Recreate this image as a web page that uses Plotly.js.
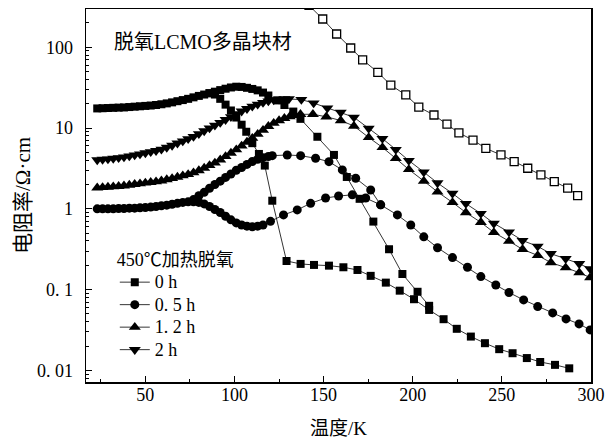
<!DOCTYPE html>
<html><head><meta charset="utf-8">
<script src="https://cdn.plot.ly/plotly-3.0.1.min.js"></script>
<style>html,body{margin:0;padding:0;background:#fff}#chart{width:607px;height:441px}</style>
</head><body><div id="chart"></div>
<script>
// ---- data ----
// unlabeled high-resistance sample (open squares)
const openT   = [141.8,149.5,157.3,165.2,171.9,180.4,187.7,196.1,203.4,211.9,219.2,225.9,233.8,241.0,249.5,256.9,264.5,271.9,279.4,286.9,292.5];
const openR   = [330,224,146,98,70,49,34,25.7,18.2,14.5,11.2,8.7,7.1,5.6,4.65,3.84,3.18,2.63,2.17,1.80,1.46];

// 0 h : main path (rise, peak, fall on the upper branch)
const h0T  = [23,26,29,32,35,38,41,44,47,50,53,56,59,62,65,68,71,74,77,80,83,86,89,92,95,98,101,104,107,110,113,116,119,124,128,133,137,146.5,155.8,163,170.2,177.9,186.7,194.2,202.7,209.2];
const h0R  = [17.5,17.6,17.7,17.8,17.9,18.0,18.2,18.4,18.6,18.8,19.0,19.3,19.7,20.2,20.8,21.5,22.2,23.0,24.0,25.0,26.0,27.0,28.2,29.5,30.7,31.8,32.5,32.3,31.5,30.5,29.3,27.5,25.3,22.0,19.3,16.0,13.0,7.8,4.65,2.48,1.33,0.695,0.316,0.156,0.094,0.063];
// 0 h : lower branch (sudden drop) and low tail
const h0bT = [86,89,92,95,98,101,104,106.6,110,113.7,117,121.2,129.2,137.1,144.6,153,161.1,169,176.4,184.9,192.7,200.7,209.2,217.3,224.7,232.6,240.5,248.5,256,264,271.5,279.8,287.8];
const h0bR = [27,26,23,19.5,16.5,13.5,11,9.0,6.5,4.78,3.43,1.26,0.226,0.208,0.202,0.198,0.189,0.175,0.148,0.122,0.097,0.076,0.056,0.043,0.0327,0.0262,0.0217,0.0183,0.0163,0.0142,0.0127,0.0117,0.0106];

// 0.5 h : lower branch (dip) and common high-T part
const h05T  = [23,26,29,32,35,38,41,44,47,50,53,56,59,62,65,68,71,74,77,80,83,86,89,92,95,98,101,104,107,110,113,116,120.2,127.5,135.2,142.7,151.1,158.4,166.1,173.6,182,191.4,198.9,206.2,213.9,222.3,230.7,238.2,246.6,254,262.2,270.1,278.5,286,293.3,299.5];
const h05R  = [1.0,1.0,1.0,1.0,1.01,1.01,1.02,1.02,1.03,1.04,1.05,1.07,1.09,1.11,1.14,1.17,1.2,1.22,1.22,1.2,1.15,1.07,0.98,0.9,0.81,0.73,0.67,0.63,0.61,0.6,0.61,0.63,0.70,0.84,0.97,1.17,1.36,1.44,1.49,1.36,1.12,0.84,0.63,0.45,0.33,0.249,0.189,0.145,0.114,0.092,0.0745,0.0616,0.0515,0.0434,0.0376,0.0317];
// 0.5 h : upper branch
const h05bT = [77,80,83,86,89,92,95,98,101,104,107,110,113,116,119,121.2,129.6,137.1,145.5,153,160.5,168,176.4,182];
const h05bR = [1.3,1.45,1.6,1.8,2.0,2.2,2.45,2.7,3.0,3.25,3.55,3.85,4.1,4.3,4.45,4.55,4.64,4.55,4.23,3.84,3.03,2.39,1.71,1.12];

// 1.2 h
const h12T = [23,26,29,32,35,38,41,44,47,50,53,56,59,62,65,68,71,74,77,80,83,86,89,92,95,98,101,104,107,110,113,116,119,122,125,128,131,134,137,144,151.5,159.6,167,175.3,183,190.5,197.8,206.2,213.9,222.3,229.8,238.2,245.5,254,261.6,270.1,277.5,285.8,293.4,299.5];
const h12R = [1.82,1.84,1.86,1.88,1.9,1.93,1.97,2.01,2.05,2.09,2.13,2.17,2.22,2.3,2.38,2.47,2.57,2.67,2.8,2.98,3.2,3.45,3.7,4.05,4.45,4.9,5.4,6.0,6.7,7.5,8.4,9.4,10.5,11.5,12.4,13.2,13.9,14.4,14.8,14.8,13.8,12.4,10.6,7.65,5.76,4.2,3.07,2.21,1.62,1.2,0.90,0.68,0.511,0.398,0.315,0.265,0.216,0.187,0.162,0.141];

// 2 h
const h2T = [23,26,29,32,35,38,41,44,47,50,53,56,59,62,65,68,71,74,77,80,83,86,89,92,95,98,101,104,107,110,113,116,119,122,125,128,130.5,137.5,144.4,152.1,159.6,167,175.3,183,190.5,197.8,206.2,213.9,222.3,229.8,238.2,245.5,254,261.6,270.1,277.5,285.8,293.4,299.5];
const h2R = [4.03,4.08,4.13,4.2,4.28,4.38,4.5,4.63,4.77,4.92,5.08,5.25,5.45,5.75,6.1,6.5,6.9,7.35,7.85,8.5,9.2,10.0,10.8,11.7,12.7,13.8,15.0,16.2,17.4,18.6,19.7,20.7,21.6,22.3,22.7,22.9,22.9,22.5,20.4,17.7,15.6,13.6,9.9,7.4,5.42,3.96,2.85,2.09,1.55,1.16,0.875,0.66,0.515,0.405,0.343,0.278,0.241,0.209,0.181];

const yTickVals = [0.01,0.1,1,10,100];
const yTickText = ['0. 01','0. 1','1','10','100'];
const xTickVals = [50,100,150,200,250,300];
const legendNames = ['0 h','0. 5 h','1. 2 h','2 h'];

// ---- chart ----
const FONT = '"Liberation Serif", "Noto Sans CJK SC", serif';
const LINE = {color:'#000', width:0.8};
function big(s){ return '<span style="font-size:18px">'+s+'</span>'; }
function tr(x,y,name,symbol,size,show,extra){
  return Object.assign({x:x,y:y,type:'scatter',mode:'lines+markers',name:name,showlegend:show,
    line:LINE, marker:{symbol:symbol,size:size,color:'#000',line:{width:0}}, cliponaxis:true, hoverinfo:'skip'}, extra||{});
}
const data = [
  tr(openT,openR,'open','square',8,false,{marker:{symbol:'square',size:8,color:'#fff',line:{color:'#000',width:1.3}}}),
  tr(h0bT,h0bR,'0hb','square',8,false),
  tr(h0T,h0R,big(legendNames[0]),'square',8,true),
  tr(h05bT,h05bR,'05b','circle',9,false),
  tr(h05T,h05R,big(legendNames[1]),'circle',9,true),
  tr(h12T,h12R,big(legendNames[2]),'triangle-up',10.5,true),
  tr(h2T,h2R,big(legendNames[3]),'triangle-down',10.5,true)
];

const minorY = [];
for (let k=-3;k<=2;k++){ for (let m=2;m<=9;m++){ minorY.push(m*Math.pow(10,k)); } }
const minorX = [25,75,125,175,225,275];

const layout = {
  width:607, height:441,
  margin:{l:86,r:16,t:9,b:59,pad:0},
  paper_bgcolor:'#fff', plot_bgcolor:'#fff',
  font:{family:FONT,size:18,color:'#000'},
  showlegend:true,
  legend:{x:0.057,y:0.374,xanchor:'left',yanchor:'top',bgcolor:'rgba(0,0,0,0)',borderwidth:0,
    font:{family:FONT,size:15,color:'#000'},tracegroupgap:0,itemsizing:'trace',
    title:{text:'450℃加热脱氧',font:{family:FONT,size:18,color:'#000'}}},
  xaxis:{range:[16.7,300],showline:true,mirror:true,linecolor:'#000',linewidth:1.5,
    ticks:'inside',ticklen:6,tickwidth:1,tickcolor:'#000',tickmode:'array',tickvals:xTickVals,
    ticklabelstandoff:-4,showgrid:false,zeroline:false,tickfont:{family:FONT,size:18},
    minor:{tickmode:'array',tickvals:minorX,ticks:'inside',ticklen:3,tickcolor:'#000',tickwidth:1,showgrid:false},
    title:{text:'温度/K',font:{family:FONT,size:19},standoff:17}},
  yaxis:{type:'log',range:[-2.144,2.474],showline:true,mirror:true,linecolor:'#000',linewidth:1.5,
    ticks:'inside',ticklen:6,tickwidth:1,tickcolor:'#000',tickmode:'array',tickvals:yTickVals,ticktext:yTickText,
    ticklabelstandoff:8,showgrid:false,zeroline:false,tickfont:{family:FONT,size:18},
    minor:{tickmode:'array',tickvals:minorY,ticks:'inside',ticklen:3,tickcolor:'#000',tickwidth:1,showgrid:false},
    title:{text:'电阻率/Ω·cm',font:{family:FONT,size:21},standoff:0}},
  annotations:[{xref:'paper',yref:'paper',x:0.051,y:0.912,xanchor:'left',yanchor:'middle',showarrow:false,
    text:'脱氧LCMO多晶块材',font:{family:FONT,size:20,color:'#000'}}]
};
Plotly.newPlot('chart',data,layout,{staticPlot:true,displayModeBar:false});
</script></body></html>
